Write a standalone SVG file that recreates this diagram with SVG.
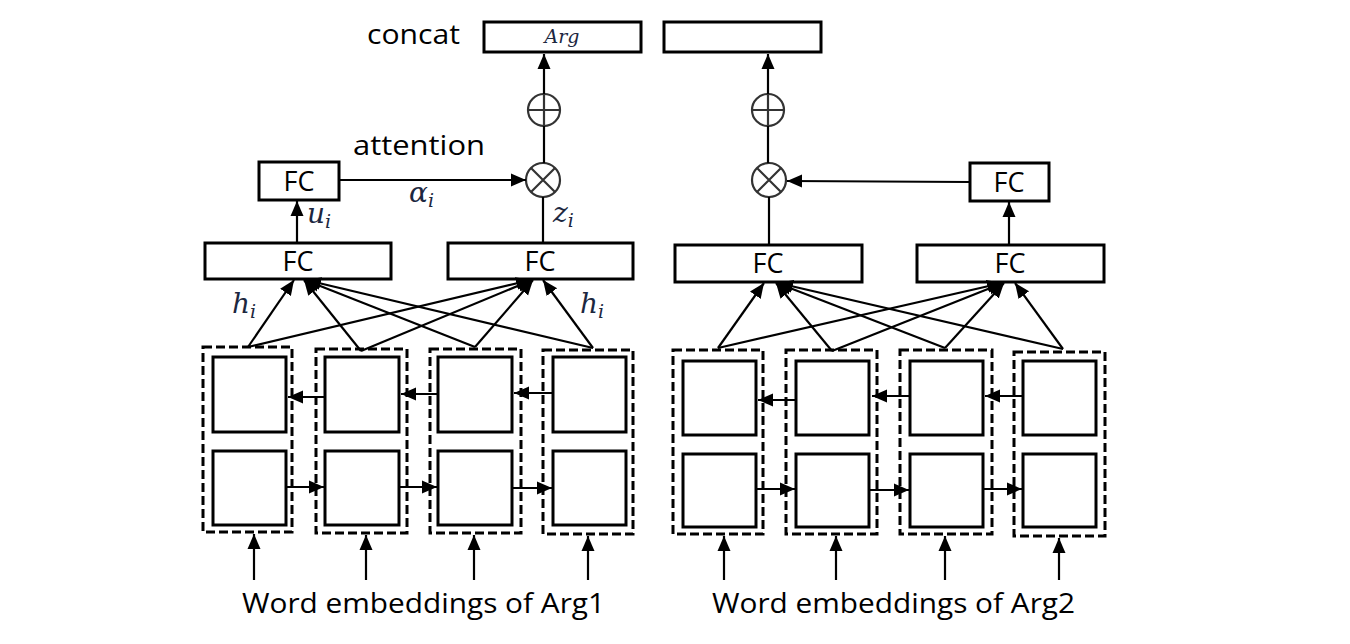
<svg xmlns="http://www.w3.org/2000/svg" width="1350" height="644" viewBox="0 0 1350 644">
<defs>
<marker id="ah" markerUnits="userSpaceOnUse" markerWidth="16" markerHeight="16" viewBox="0 0 16 16" refX="15" refY="8" orient="auto">
<path d="M0,1.5 L15,8 L0,14.5 Z" fill="#000"/>
</marker>
<style>
.box{fill:#fff;stroke:#000;stroke-width:3}
.cell{fill:#fff;stroke:#000;stroke-width:3}
.dash{fill:none;stroke:#000;stroke-width:3;stroke-dasharray:9,4}
.op{fill:#fff;stroke:#333;stroke-width:2.2}
.ln{fill:none;stroke:#000;stroke-width:2.2}
.ar{fill:none;stroke:#000;stroke-width:2.2;marker-end:url(#ah)}
.lbl{font-family:"Open Sans","Liberation Sans",sans-serif;fill:#000}
.math{font-family:"DejaVu Serif","Liberation Serif",serif;font-style:italic;fill:#1c2740}
</style>
</defs>
<rect width="1350" height="644" fill="#fff"/>

<text class="lbl" x="367" y="44" font-size="28" textLength="93" lengthAdjust="spacingAndGlyphs">concat</text>
<text class="lbl" x="353" y="155" font-size="28" textLength="132" lengthAdjust="spacingAndGlyphs">attention</text>

<g id="arg1-out">
<rect class="box" x="484" y="22" width="157" height="30"/>
<text class="math" x="562" y="43" font-size="19" text-anchor="middle">Arg</text>
</g>
<g id="arg2-out">
<rect class="box" x="664" y="22" width="157" height="30"/>
</g>

<g id="plus1"><circle class="op" cx="544" cy="110" r="16"/><path class="op" d="M528,110 H560 M544,94 V126"/></g>
<g id="plus2"><circle class="op" cx="768" cy="110" r="16"/><path class="op" d="M752,110 H784 M768,94 V126"/></g>
<g id="mul1"><circle class="op" cx="543" cy="180" r="17"/><path class="op" d="M531,168 L555,192 M555,168 L531,192"/></g>
<g id="mul2"><circle class="op" cx="769" cy="180" r="17"/><path class="op" d="M757,168 L781,192 M781,168 L757,192"/></g>

<g id="fc-att1"><rect class="box" x="259" y="162" width="80" height="38"/><text class="lbl" x="299" y="191" font-size="27" text-anchor="middle">FC</text></g>
<g id="fc-att2"><rect class="box" x="970" y="163" width="79" height="38"/><text class="lbl" x="1009" y="192" font-size="27" text-anchor="middle">FC</text></g>

<g id="fc1"><rect class="box" x="205" y="243" width="186" height="36"/><text class="lbl" x="298" y="271" font-size="27" text-anchor="middle">FC</text></g>
<g id="fc2"><rect class="box" x="448" y="243" width="185" height="36"/><text class="lbl" x="540" y="271" font-size="27" text-anchor="middle">FC</text></g>
<g id="fc3"><rect class="box" x="675" y="245" width="187" height="37"/><text class="lbl" x="768" y="273" font-size="27" text-anchor="middle">FC</text></g>
<g id="fc4"><rect class="box" x="917" y="245" width="187" height="37"/><text class="lbl" x="1010" y="273" font-size="27" text-anchor="middle">FC</text></g>

<g id="lstm-left">
<rect class="dash" x="203" y="347" width="89" height="185"/>
<rect class="dash" x="316" y="349" width="91" height="184"/>
<rect class="dash" x="430" y="349" width="91" height="184"/>
<rect class="dash" x="543" y="350" width="90" height="184"/>
<rect class="cell" x="213" y="357" width="73" height="75"/><rect class="cell" x="213" y="451" width="73" height="74"/>
<rect class="cell" x="325" y="357" width="74" height="75"/><rect class="cell" x="325" y="451" width="74" height="74"/>
<rect class="cell" x="438" y="357" width="74" height="75"/><rect class="cell" x="438" y="451" width="74" height="74"/>
<rect class="cell" x="553" y="357" width="73" height="75"/><rect class="cell" x="553" y="451" width="73" height="74"/>
</g>
<g id="lstm-right">
<rect class="dash" x="673" y="350" width="90" height="184"/>
<rect class="dash" x="786" y="350" width="91" height="184"/>
<rect class="dash" x="900" y="350" width="92" height="184"/>
<rect class="dash" x="1014" y="352" width="91" height="184"/>
<rect class="cell" x="683" y="361" width="73" height="74"/><rect class="cell" x="683" y="454" width="73" height="73"/>
<rect class="cell" x="796" y="361" width="73" height="74"/><rect class="cell" x="796" y="454" width="73" height="73"/>
<rect class="cell" x="910" y="361" width="73" height="74"/><rect class="cell" x="910" y="454" width="73" height="73"/>
<rect class="cell" x="1023" y="361" width="73" height="74"/><rect class="cell" x="1023" y="454" width="73" height="73"/>
</g>

<g id="connectors">
<line class="ar" x1="544" y1="94" x2="544" y2="54"/>
<line class="ar" x1="768" y1="94" x2="768" y2="54"/>
<line class="ln" x1="544" y1="126" x2="544" y2="163"/>
<line class="ln" x1="768" y1="126" x2="768" y2="163"/>
<line class="ln" x1="543" y1="197" x2="543" y2="243"/>
<line class="ln" x1="769" y1="197" x2="769" y2="245"/>
<line class="ar" x1="339" y1="180" x2="526" y2="180"/>
<line class="ar" x1="970" y1="182" x2="787" y2="181"/>
<line class="ar" x1="297" y1="243" x2="297" y2="201"/>
<line class="ar" x1="1009" y1="245" x2="1009" y2="202"/>

<line class="ar" x1="248" y1="347" x2="294" y2="280"/>
<line class="ar" x1="361" y1="351" x2="304" y2="280"/>
<line class="ar" x1="475" y1="347" x2="305" y2="280"/>
<line class="ar" x1="593" y1="348" x2="306" y2="280"/>
<line class="ar" x1="248" y1="347" x2="531" y2="280"/>
<line class="ar" x1="361" y1="351" x2="532" y2="280"/>
<line class="ar" x1="475" y1="347" x2="533" y2="280"/>
<line class="ar" x1="593" y1="348" x2="543" y2="280"/>

<line class="ar" x1="718" y1="348" x2="764" y2="283"/>
<line class="ar" x1="832" y1="351" x2="776" y2="283"/>
<line class="ar" x1="945" y1="348" x2="777" y2="283"/>
<line class="ar" x1="1063" y1="349" x2="778" y2="283"/>
<line class="ar" x1="718" y1="348" x2="1002" y2="283"/>
<line class="ar" x1="832" y1="351" x2="1003" y2="283"/>
<line class="ar" x1="945" y1="348" x2="1004" y2="283"/>
<line class="ar" x1="1063" y1="349" x2="1015" y2="283"/>

<line class="ar" x1="325" y1="397" x2="288" y2="397"/>
<line class="ar" x1="438" y1="394" x2="401" y2="394"/>
<line class="ar" x1="553" y1="393" x2="514" y2="393"/>
<line class="ar" x1="286" y1="487" x2="324" y2="487"/>
<line class="ar" x1="399" y1="487" x2="437" y2="487"/>
<line class="ar" x1="512" y1="488" x2="552" y2="488"/>

<line class="ar" x1="796" y1="400" x2="758" y2="400"/>
<line class="ar" x1="910" y1="396" x2="872" y2="396"/>
<line class="ar" x1="1023" y1="396" x2="985" y2="396"/>
<line class="ar" x1="756" y1="489" x2="795" y2="489"/>
<line class="ar" x1="869" y1="490" x2="909" y2="490"/>
<line class="ar" x1="983" y1="489" x2="1022" y2="489"/>

<line class="ar" x1="254" y1="580" x2="254" y2="534"/>
<line class="ar" x1="366" y1="580" x2="366" y2="535"/>
<line class="ar" x1="474" y1="580" x2="474" y2="535"/>
<line class="ar" x1="588" y1="580" x2="588" y2="536"/>
<line class="ar" x1="724" y1="580" x2="724" y2="536"/>
<line class="ar" x1="836" y1="580" x2="836" y2="536"/>
<line class="ar" x1="945" y1="580" x2="945" y2="536"/>
<line class="ar" x1="1059" y1="580" x2="1059" y2="538"/>
</g>

<text class="math" x="409" y="202" font-size="28">α<tspan font-size="19" dy="5">i</tspan></text>
<text class="math" x="307" y="223" font-size="28">u<tspan font-size="19" dy="5">i</tspan></text>
<text class="math" x="553" y="222" font-size="28">z<tspan font-size="19" dy="5">i</tspan></text>
<text class="math" x="232" y="313" font-size="28">h<tspan font-size="19" dy="5">i</tspan></text>
<text class="math" x="580" y="313" font-size="28">h<tspan font-size="19" dy="5">i</tspan></text>

<text class="lbl" x="242" y="613" font-size="28" textLength="363" lengthAdjust="spacingAndGlyphs">Word embeddings of Arg1</text>
<text class="lbl" x="712" y="613" font-size="28" textLength="363" lengthAdjust="spacingAndGlyphs">Word embeddings of Arg2</text>
</svg>
